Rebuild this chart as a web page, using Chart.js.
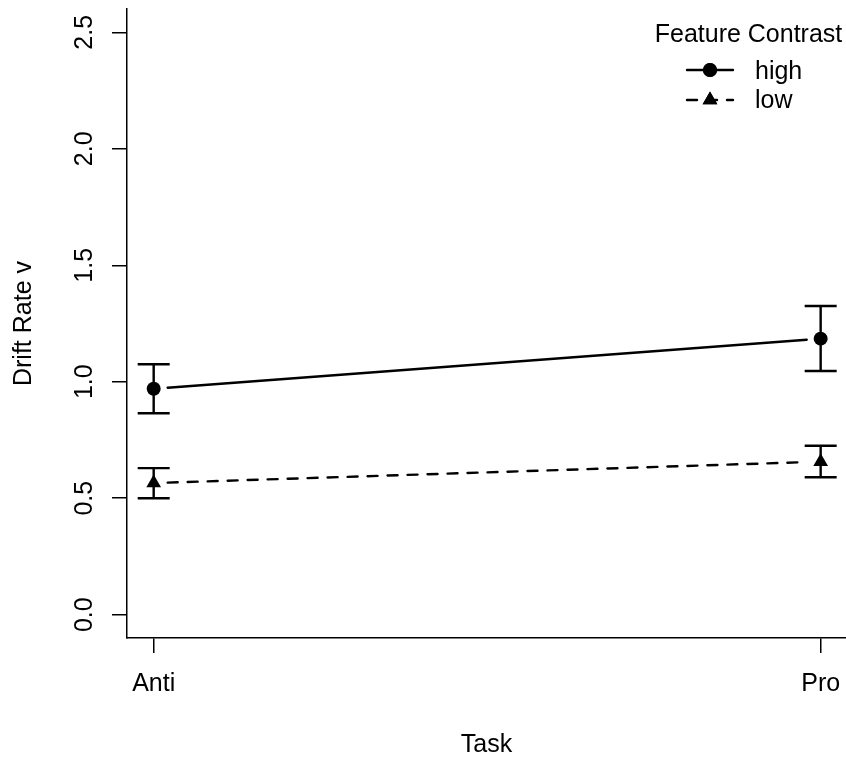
<!DOCTYPE html>
<html>
<head>
<meta charset="utf-8">
<script src="https://cdn.jsdelivr.net/npm/chart.js@4.4.1/dist/chart.umd.min.js"></script>
<style>
  html, body { margin: 0; padding: 0; background: #fff; }
  canvas { display: block; }
</style>
</head>
<body>
<canvas id="grafico" width="846" height="758"></canvas>
<script>
const tarefas = ["Anti", "Pro"];
const posicoesX = [1, 2];

const altoMedia = [0.970, 1.185];
const altoInferior = [0.865, 1.046];
const altoSuperior = [1.075, 1.325];

const baixoMedia = [0.565, 0.657];
const baixoInferior = [0.500, 0.590];
const baixoSuperior = [0.629, 0.725];

const ticksY = [0, 0.5, 1.0, 1.5, 2.0, 2.5];
const rotulosY = ["0.0", "0.5", "1.0", "1.5", "2.0", "2.5"];

const legendaTitulo = "Feature Contrast";
const legendaNomes = ["high", "low"];

const fonte = "'Liberation Sans', Arial, Helvetica, sans-serif";
Chart.defaults.font.family = fonte;
Chart.defaults.font.size = 25;
Chart.defaults.color = "#000";

const FOLGA = 14;
const ESPESSURA = 2.4;

function pontos(valores) {
  return posicoesX.map((x, i) => ({ x: x, y: valores[i] }));
}

// linhas tipo "b" do R (com folga em volta dos pontos) e barras de erro
const linhasEBarras = {
  id: "linhasEBarras",
  beforeDatasetsDraw(chart) {
    const ctx = chart.ctx;
    const sx = chart.scales.x;
    const sy = chart.scales.y;
    chart.data.datasets.forEach(ds => {
      const pts = ds.data.map(p => ({ px: sx.getPixelForValue(p.x), py: sy.getPixelForValue(p.y) }));
      ctx.save();
      ctx.strokeStyle = "#000";
      ctx.lineWidth = ESPESSURA;
      ctx.lineCap = "round";
      ctx.setLineDash(ds.tracejado);
      for (let i = 0; i < pts.length - 1; i++) {
        const a = pts[i], b = pts[i + 1];
        const dx = b.px - a.px, dy = b.py - a.py;
        const len = Math.hypot(dx, dy);
        const ux = dx / len, uy = dy / len;
        ctx.beginPath();
        ctx.moveTo(a.px + ux * FOLGA, a.py + uy * FOLGA);
        ctx.lineTo(b.px - ux * FOLGA, b.py - uy * FOLGA);
        ctx.stroke();
      }
      ctx.setLineDash([]);
      ctx.lineCap = "butt";
      ds.inferior.forEach((lo, i) => {
        const px = sx.getPixelForValue(posicoesX[i]);
        const y1 = sy.getPixelForValue(lo);
        const y2 = sy.getPixelForValue(ds.superior[i]);
        ctx.beginPath();
        ctx.moveTo(px, y1);
        ctx.lineTo(px, y2);
        ctx.moveTo(px - 16, y1);
        ctx.lineTo(px + 16, y1);
        ctx.moveTo(px - 16, y2);
        ctx.lineTo(px + 16, y2);
        ctx.stroke();
      });
      ctx.restore();
    });
  },
  afterDraw(chart) {
    const ctx = chart.ctx;
    ctx.save();
    ctx.fillStyle = "#000";
    ctx.strokeStyle = "#000";
    ctx.font = "25px " + fonte;
    ctx.textBaseline = "alphabetic";
    ctx.textAlign = "center";
    ctx.fillText(legendaTitulo, 748.5, 42);
    const linhasY = [70, 100];
    const bases = [79, 108];
    chart.data.datasets.forEach((ds, i) => {
      const y = linhasY[i];
      ctx.lineWidth = ESPESSURA;
      ctx.lineCap = "round";
      ctx.setLineDash(ds.tracejado);
      ctx.beginPath();
      ctx.moveTo(687, y);
      ctx.lineTo(733, y);
      ctx.stroke();
      ctx.setLineDash([]);
      Chart.helpers.drawPoint(ctx, { pointStyle: ds.pointStyle, radius: ds.pointRadius, borderWidth: 0, rotation: 0 }, 710, y);
      ctx.fill();
      ctx.textAlign = "left";
      ctx.fillText(legendaNomes[i], 755, bases[i]);
    });
    ctx.restore();
  }
};

new Chart(document.getElementById("grafico"), {
  type: "scatter",
  data: {
    datasets: [
      {
        label: legendaNomes[0],
        data: pontos(altoMedia),
        inferior: altoInferior,
        superior: altoSuperior,
        tracejado: [],
        pointStyle: "circle",
        pointRadius: 7,
        pointBorderWidth: 0,
        pointBackgroundColor: "#000",
        pointBorderColor: "#000",
        showLine: false
      },
      {
        label: legendaNomes[1],
        data: pontos(baixoMedia),
        inferior: baixoInferior,
        superior: baixoSuperior,
        tracejado: [10, 10],
        pointStyle: "triangle",
        pointRadius: 8.5,
        pointBorderWidth: 0,
        pointBackgroundColor: "#000",
        pointBorderColor: "#000",
        showLine: false
      }
    ]
  },
  options: {
    responsive: false,
    animation: false,
    events: [],
    layout: { autoPadding: false, padding: { top: 9, right: 0, left: 0, bottom: 0 } },
    plugins: {
      legend: { display: false },
      tooltip: { enabled: false }
    },
    scales: {
      x: {
        type: "linear",
        min: 0.96,
        max: 2.038,
        afterBuildTicks: s => { s.ticks = posicoesX.map(v => ({ value: v })); },
        afterFit: s => {
          s.height = 120;
          s.paddingLeft = 0;
          s.paddingRight = 0;
          s.paddingTop = 0;
          s.paddingBottom = 0;
        },
        grid: { drawOnChartArea: false, drawTicks: true, tickLength: 15, color: "#000", lineWidth: 1.5 },
        border: { display: true, color: "#000", width: 1.5 },
        ticks: {
          autoSkip: false,
          maxRotation: 0,
          padding: 16,
          font: { size: 25, lineHeight: 1.2 },
          callback: v => tarefas[posicoesX.indexOf(v)]
        },
        title: { display: true, text: "Task", font: { size: 25, lineHeight: 1 }, padding: { top: 0, bottom: 0 } }
      },
      y: {
        min: -0.1,
        max: 2.6,
        afterBuildTicks: s => { s.ticks = ticksY.map(v => ({ value: v })); },
        afterFit: s => {
          s.width = 127;
          s.paddingLeft = 0;
          s.paddingRight = 0;
          s.paddingTop = 0;
          s.paddingBottom = 0;
        },
        grid: { drawOnChartArea: false, drawTicks: true, tickLength: 15, color: "#000", lineWidth: 1.5 },
        border: { display: true, color: "#000", width: 1.5 },
        ticks: {
          autoSkip: false,
          minRotation: 90,
          maxRotation: 90,
          crossAlign: "center",
          padding: 10,
          font: { size: 25 },
          callback: v => rotulosY[ticksY.indexOf(v)]
        },
        title: { display: true, text: "Drift Rate v", font: { size: 25, lineHeight: 1.2 }, padding: { top: 9, bottom: 0 } }
      }
    }
  },
  plugins: [linhasEBarras]
});
</script>
</body>
</html>
